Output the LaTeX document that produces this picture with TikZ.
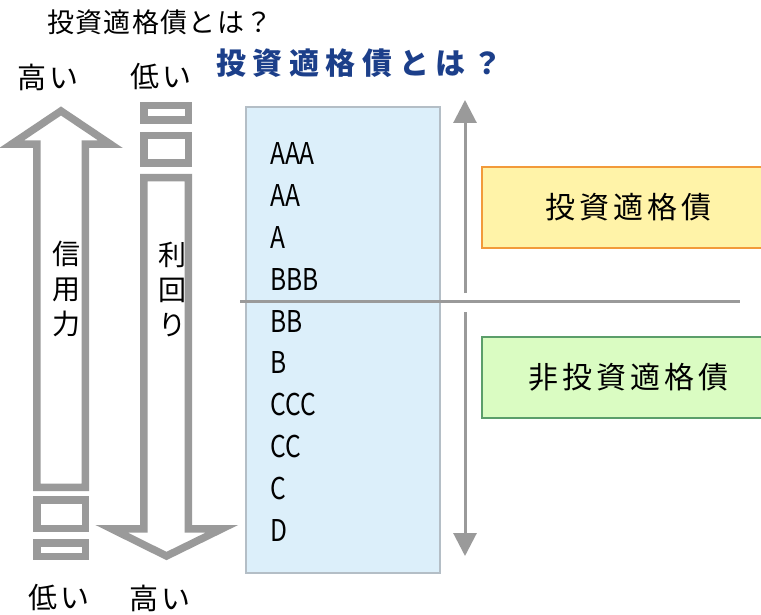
\documentclass[tikz,border=0pt]{standalone}
\usepackage{fontspec}
\setmainfont{Noto Sans CJK JP}
\usetikzlibrary{arrows.meta}
\definecolor{arrgray}{HTML}{9A9A9A}
\definecolor{titleblue}{HTML}{1C3F8A}
\definecolor{boxblue}{HTML}{DCEFFA}
\definecolor{boxblueedge}{HTML}{B4BEC6}
\definecolor{yfill}{HTML}{FFF3A8}
\definecolor{yedge}{HTML}{F29A3A}
\definecolor{gfill}{HTML}{DAFCC2}
\definecolor{gedge}{HTML}{5B9E6A}
\begin{document}
\begin{tikzpicture}[x=1pt,y=-1pt,
  hollow/.style={draw=arrgray,line width=7.5pt,line join=miter},
  rating/.style={anchor=west,inner sep=0pt,font=\fontsize{30}{30}\selectfont},
  jp/.style={inner sep=0pt,font=\fontsize{29}{29}\selectfont\addfontfeature{LetterSpace=10}},
  vert/.style={inner sep=0pt,align=center,font=\fontsize{28}{35}\selectfont},
  gline/.style={draw=arrgray,line width=3pt},
  garrow/.style={gline,-{Triangle[width=23pt,length=23pt]}},
  catbox/.style={minimum width=293pt,minimum height=81pt,line width=2pt,inner sep=0pt,
     font=\fontsize{30}{30}\selectfont\addfontfeature{LetterSpace=13}}]
\useasboundingbox (0,0) rectangle (761,615);
\clip (0,0) rectangle (761,615);
\fill[white] (0,0) rectangle (761,615);
% titles
\node[inner sep=0pt,anchor=west,font=\fontsize{27}{27}\selectfont\addfontfeature{LetterSpace=5}] (t1) at (47,22) {投資適格債とは？};
\node[inner sep=0pt,anchor=west,text=titleblue,font=\fontsize{30}{30}\selectfont\bfseries\addfontfeature{LetterSpace=22}] (t2) at (216,63) {投資適格債とは？};
% top / bottom labels
\node[jp,anchor=west] (hiL) at (17,77) {高い};
\node[jp,anchor=west] (loR) at (130,77) {低い};
\node[jp,anchor=west] (loL) at (28,598) {低い};
\node[jp,anchor=west] (hiR) at (129,598) {高い};
% left hollow arrow (up)
\draw[hollow] (61,111) -- (110.5,144.25) -- (85.25,144.25) -- (85.25,487.25) -- (36.75,487.25) -- (36.75,144.25) -- (11.5,144.25) -- cycle;
\draw[hollow] (36.75,499.75) rectangle (85.25,528.25);
\draw[hollow] (36.75,542.75) rectangle (85.25,556.25);
\node[vert] (credit) at (66,289) {信\\用\\力};
% right hollow arrow (down)
\draw[hollow] (143.75,105.75) rectangle (188.25,120.25);
\draw[hollow] (143.75,135.75) rectangle (188.25,163.25);
\draw[hollow] (143.75,177.75) -- (188.25,177.75) -- (188.25,528.75) -- (222,528.75) -- (166.5,556) -- (111.5,528.75) -- (143.75,528.75) -- cycle;
\node[vert] (yield) at (172,290) {利\\回\\り};
% rating box
\node[draw=boxblueedge,fill=boxblue,line width=1.5pt,minimum width=194pt,minimum height=466pt,inner sep=0pt] (rbox) at (343,340) {};
\foreach \r [count=\i from 0] in {AAA,AA,A,BBB,BB,B,CCC,CC,C,D}{
  \node[rating] (r\i) at (270,153.5+41.9*\i) {\scalebox{0.82}[1]{\r}};
}
% divider
\coordinate (divL) at (240,301);
\coordinate (divR) at (740,301);
\draw[gline] (divL) -- (divR);
% vertical arrows
\coordinate (upS) at (465,293);
\coordinate (upE) at (465,100);
\coordinate (dnS) at (465,312);
\coordinate (dnE) at (465,556);
\draw[garrow] (upS) -- (upE);
\draw[garrow] (dnS) -- (dnE);
% category boxes
\node[catbox,draw=yedge,fill=yfill] (ig) at (628.5,207.5) {投資適格債};
\node[catbox,draw=gedge,fill=gfill] (hy) at (628.5,377.5) {非投資適格債};
\end{tikzpicture}
\end{document}
